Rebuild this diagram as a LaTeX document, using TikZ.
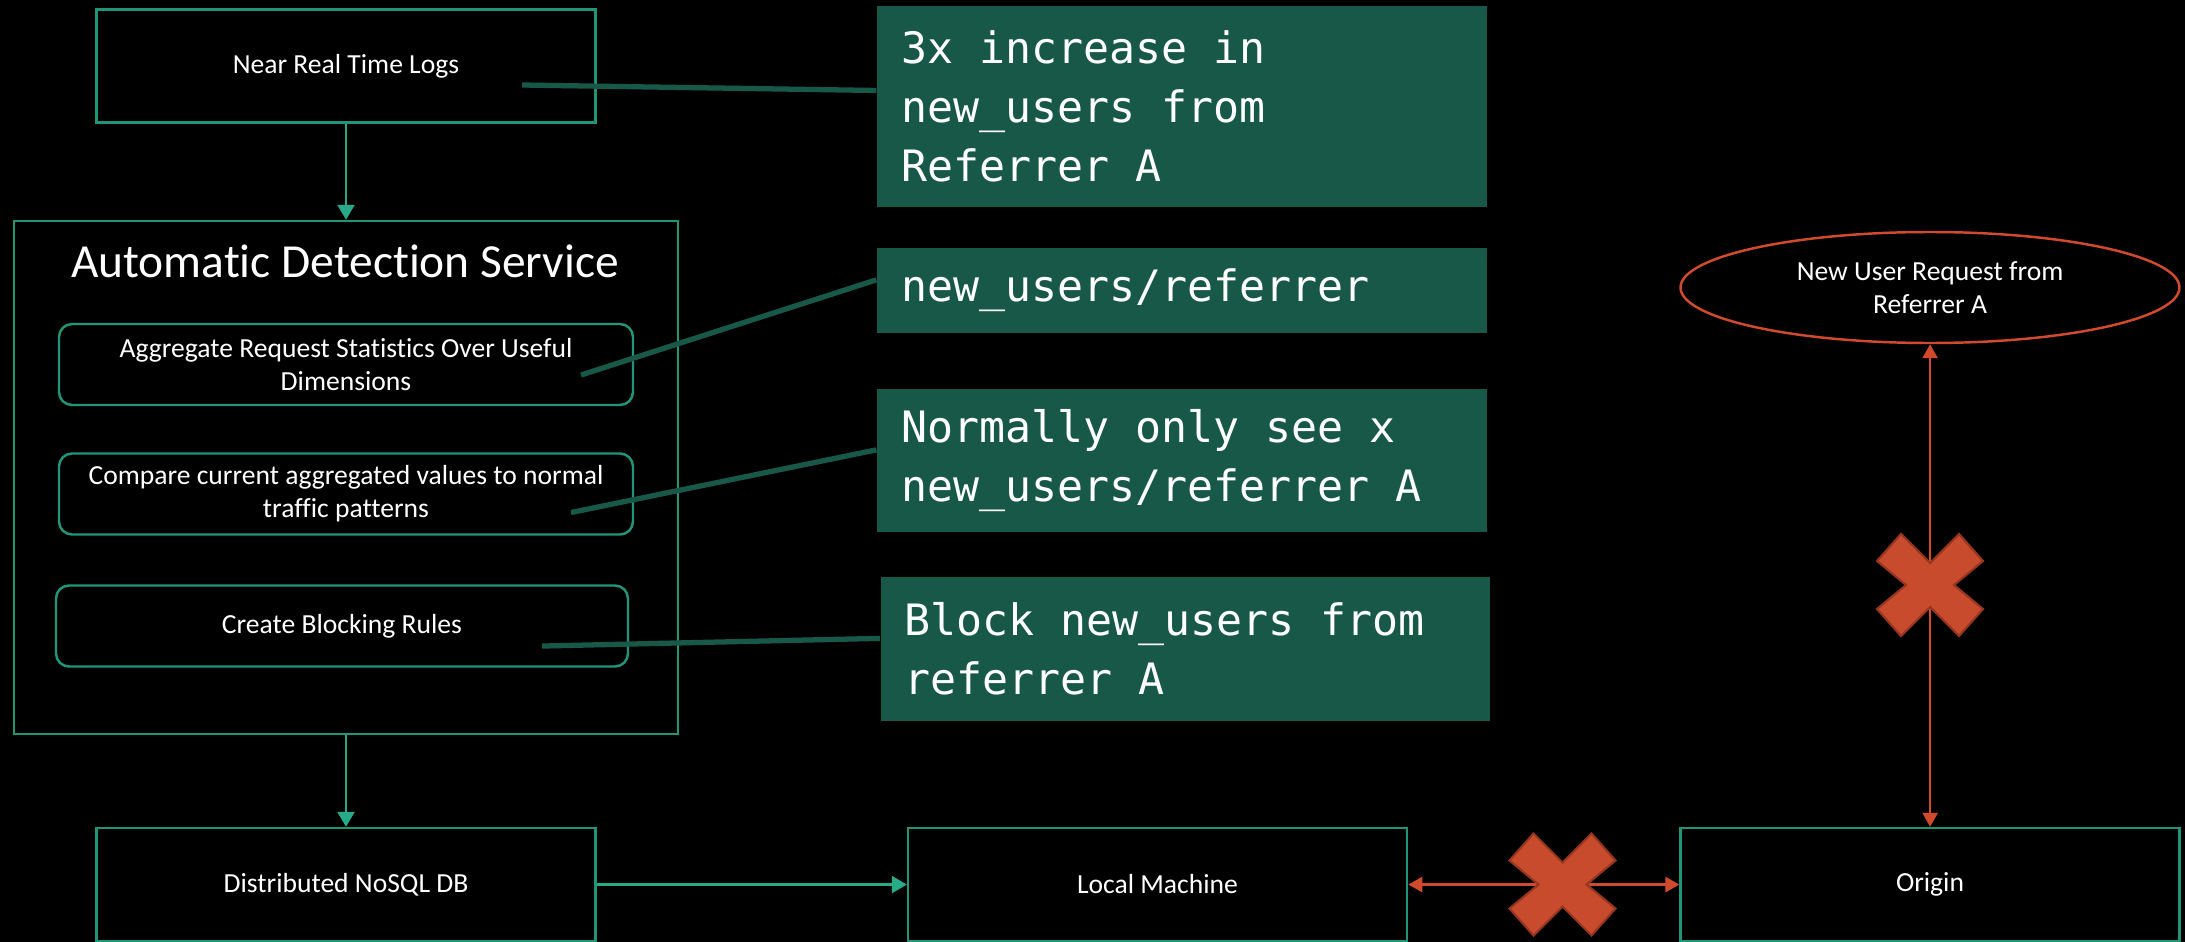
\documentclass[tikz,border=0pt]{standalone}
\usepackage{fontspec}
\setmainfont{Carlito}[Ligatures=NoCommon]
\newfontfamily\calloutfont{DejaVu Sans Mono}
\usetikzlibrary{arrows.meta,shapes.geometric}

\definecolor{tealline}{RGB}{32,150,120}
\definecolor{tealarrow}{RGB}{38,170,136}
\definecolor{calloutfill}{RGB}{24,88,72}
\definecolor{redline}{RGB}{210,74,44}
\definecolor{crossfill}{RGB}{201,75,45}
\definecolor{crossedge}{RGB}{150,54,30}

\tikzset{
  box/.style={draw=tealline, line width=0.7pt, minimum width=4.99cm, minimum height=1.13cm,
    inner sep=0pt, text=white, font=\fontsize{7.85}{9.4}\selectfont, align=center},
  stage/.style={box, rounded corners=0.13cm, minimum width=5.74cm, minimum height=0.81cm},
  callout/.style={fill=calloutfill, text=white,
    font=\calloutfont\fontsize{12.3}{16.7}\selectfont,
    execute at begin node={\spaceskip=7.4pt\relax},
    align=left, text width=5.62cm, inner xsep=0.24cm, inner ysep=0pt},
  leader/.style={draw=calloutfill, line width=1.5pt},
  flow/.style={draw=tealarrow, line width=0.7pt, -{Triangle[length=0.15cm,width=0.17cm]}},
  blocked/.style={draw=redline, line width=0.7pt,
    {Triangle[length=0.14cm,width=0.15cm]}-{Triangle[length=0.14cm,width=0.15cm]}},
}

% the red "multiply" mark, centred at #1
\newcommand{\blockmark}[1]{%
  \filldraw[fill=crossfill, draw=crossedge, line width=0.6pt, shift={(#1)}]
    (-5.3,2.4) -- (-2.9,5.1) -- (0,2.2) -- (2.9,5.1) -- (5.3,2.4) -- (2.4,0)
    -- (5.3,-2.4) -- (2.9,-5.1) -- (0,-2.2) -- (-2.9,-5.1) -- (-5.3,-2.4) -- (-2.4,0) -- cycle;}

\begin{document}
\begin{tikzpicture}[scale=0.1]
\path[use as bounding box, fill=black] (0,0) rectangle (218.5,-94.2);

% left column
\node[box] (logs) at (34.6,-6.6) {Near Real Time Logs};
\node[box, minimum width=6.64cm, minimum height=5.13cm] (detect) at (34.6,-47.75) {};
\node[text=white, inner sep=0pt, font=\fontsize{13.5}{16}\selectfont] (title) at (34.5,-26.1) {Automatic Detection Service};
\node[stage] (aggr) at (34.6,-36.45) {Aggregate Request Statistics Over Useful\\Dimensions};
\node[stage] (comp) at (34.6,-49.4) {Compare current aggregated values to normal\\traffic patterns};
\node[stage, minimum width=5.72cm] (rules) at (34.2,-62.6) {Create Blocking Rules};
\node[box] (nosql) at (34.6,-88.45) {Distributed NoSQL DB};

% bottom row and request
\node[box] (local) at (115.75,-88.45) {Local Machine};
\node[box] (origin) at (193,-88.45) {Origin};
\node[ellipse, draw=redline, line width=0.7pt, minimum width=4.99cm, minimum height=1.11cm,
  text=white, font=\fontsize{7.85}{9.4}\selectfont, align=center] (request) at (193,-28.75)
  {New User Request from\\Referrer A};

% callouts
\node[callout, minimum height=2.01cm] (spike) at (118.2,-10.65) {3x increase in\\new\_users from\\Referrer A};
\node[callout, minimum height=0.85cm] (dims) at (118.2,-29.05) {new\_users/referrer};
\node[callout, minimum height=1.43cm] (normal) at (118.2,-46.05) {Normally only see x\\new\_users/referrer A};
\node[callout, minimum height=1.44cm] (block) at (118.55,-64.9) {Block new\_users from\\referrer A};

\coordinate (logs-tap) at (52.2,-8.5);
\coordinate (aggr-tap) at (58.1,-37.5);
\coordinate (comp-tap) at (57.1,-51.25);
\coordinate (rules-tap) at (54.2,-64.6);
\draw[leader] (logs-tap) -- (spike.177.5);
\draw[leader] (aggr-tap) -- (dims.178.4);
\draw[leader] (comp-tap) -- (normal.178.2);
\draw[leader] (rules-tap) -- (block.178.3);

% connectors
\draw[flow] (logs.south) -- (detect.north);
\draw[flow] (detect.south) -- (nosql.north);
\draw[flow] (nosql.east) -- (local.west);
\draw[blocked] (local.east) -- (origin.west);
\draw[blocked] (request.south) -- (origin.north);

\blockmark{156.25,-88.45}
\blockmark{193,-58.5}
\end{tikzpicture}
\end{document}
